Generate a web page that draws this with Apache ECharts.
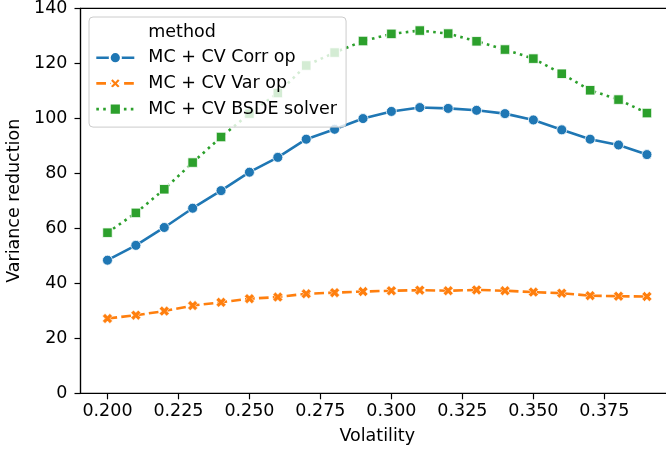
<!DOCTYPE html>
<html>
<head>
<meta charset="utf-8">
<script src="https://cdn.jsdelivr.net/npm/echarts@6/dist/echarts.min.js"></script>
<style>
html,body{margin:0;padding:0;background:#fff;}
#chart{width:666px;height:455px;}
</style>
</head>
<body>
<div id="chart"></div>
<script>
const volatility = [0.20,0.21,0.22,0.23,0.24,0.25,0.26,0.27,0.28,0.29,0.30,0.31,0.32,0.33,0.34,0.35,0.36,0.37,0.38,0.39];
const corrOp = [48.4,53.8,60.3,67.3,73.7,80.4,85.8,92.4,96.0,99.9,102.5,103.9,103.6,102.9,101.7,99.4,95.8,92.4,90.3,86.8];
const varOp = [27.2,28.4,29.9,31.9,33.1,34.4,35.0,36.2,36.6,37.0,37.3,37.5,37.3,37.6,37.3,36.8,36.4,35.5,35.3,35.2];
const bsdeSolver = [58.4,65.6,74.2,83.9,93.2,101.7,109.2,119.2,123.9,128.1,130.7,131.9,130.8,128.0,125.0,121.7,116.2,110.2,106.8,101.9];
const seriesNames = ['MC + CV Corr op','MC + CV Var op','MC + CV BSDE solver'];
const legendTitle = 'method';
const xTicks = [0.200,0.225,0.250,0.275,0.300,0.325,0.350,0.375];
const yTicks = [0,20,40,60,80,100,120,140];

const FONT = 'DejaVu Sans';
const FS = 17.5;
const xSymbol = 'path://M0,2.6L2.6,0L5,2.4L7.4,0L10,2.6L7.6,5L10,7.4L7.4,10L5,7.6L2.6,10L0,7.4L2.4,5Z';

function pairs(arr){ return volatility.map((v,i)=>[v,arr[i]]); }

const chart = echarts.init(document.getElementById('chart'), null, {renderer:'canvas'});
chart.setOption({
  animation:false,
  backgroundColor:'#ffffff',
  textStyle:{fontFamily:FONT},
  grid:{left:80.5,width:593.4,top:8.3,height:385,outerBoundsMode:'none',containLabel:false,
        show:true,borderColor:'#000',borderWidth:1.2,backgroundColor:'transparent'},
  xAxis:{
    type:'value', min:0.1905, max:0.3995,
    name:'Volatility', nameLocation:'middle', nameGap:34,
    nameTextStyle:{fontFamily:FONT,fontSize:FS,color:'#000'},
    axisLine:{show:true,lineStyle:{color:'#000',width:1.2}},
    axisTick:{show:true,length:6,lineStyle:{color:'#000',width:1.2},customValues:xTicks},
    axisLabel:{color:'#000',fontFamily:FONT,fontSize:FS,margin:9,customValues:xTicks,formatter:v=>v.toFixed(3)},
    splitLine:{show:false}
  },
  yAxis:{
    type:'value', min:yTicks[0], max:yTicks[yTicks.length-1], interval:20,
    name:'Variance reduction', nameLocation:'middle', nameGap:49,
    nameTextStyle:{fontFamily:FONT,fontSize:FS,color:'#000'},
    axisLine:{show:true,lineStyle:{color:'#000',width:1.2}},
    axisTick:{show:true,length:6,lineStyle:{color:'#000',width:1.2}},
    axisLabel:{color:'#000',fontFamily:FONT,fontSize:FS,margin:13},
    splitLine:{show:false}
  },
  legend:{
    left:89, top:17, orient:'vertical',
    padding:[6,9,9,6], itemGap:7.7,
    itemWidth:38, itemHeight:14,
    backgroundColor:'rgba(255,255,255,0.8)', borderColor:'#cccccc', borderWidth:1, borderRadius:4,
    textStyle:{fontFamily:FONT,fontSize:FS,color:'#000',lineHeight:18,padding:[0,0,0,9]},
    data:[
      {name:legendTitle, itemStyle:{opacity:0}, lineStyle:{opacity:0}},
      {name:seriesNames[0], lineStyle:{width:2.6}},
      {name:seriesNames[1], lineStyle:{width:2.6, type:[9.7,4.2]}},
      {name:seriesNames[2], lineStyle:{width:2.6, type:[2.6,4.3]}}
    ],
    selectedMode:false, z:10
  },
  series:[
    {name:legendTitle,type:'line',data:[],showSymbol:false,lineStyle:{opacity:0},itemStyle:{opacity:0}},
    {name:seriesNames[0],type:'line',data:pairs(corrOp),symbol:'circle',symbolSize:10,
     lineStyle:{color:'#1f77b4',width:2.6},itemStyle:{color:'#1f77b4',borderColor:'#fff',borderWidth:0.8},z:3},
    {name:seriesNames[1],type:'line',data:pairs(varOp),symbol:xSymbol,symbolSize:10,
     lineStyle:{color:'#ff7f0e',width:2.6,type:[9.7,4.2],cap:'butt'},itemStyle:{color:'#ff7f0e',borderColor:'#fff',borderWidth:0.5},z:3},
    {name:seriesNames[2],type:'line',data:pairs(bsdeSolver),symbol:'rect',symbolSize:9.5,
     lineStyle:{color:'#2ca02c',width:2.6,type:[2.6,4.3],cap:'butt'},itemStyle:{color:'#2ca02c',borderColor:'#fff',borderWidth:0.8},z:3}
  ]
});
</script>
</body>
</html>
